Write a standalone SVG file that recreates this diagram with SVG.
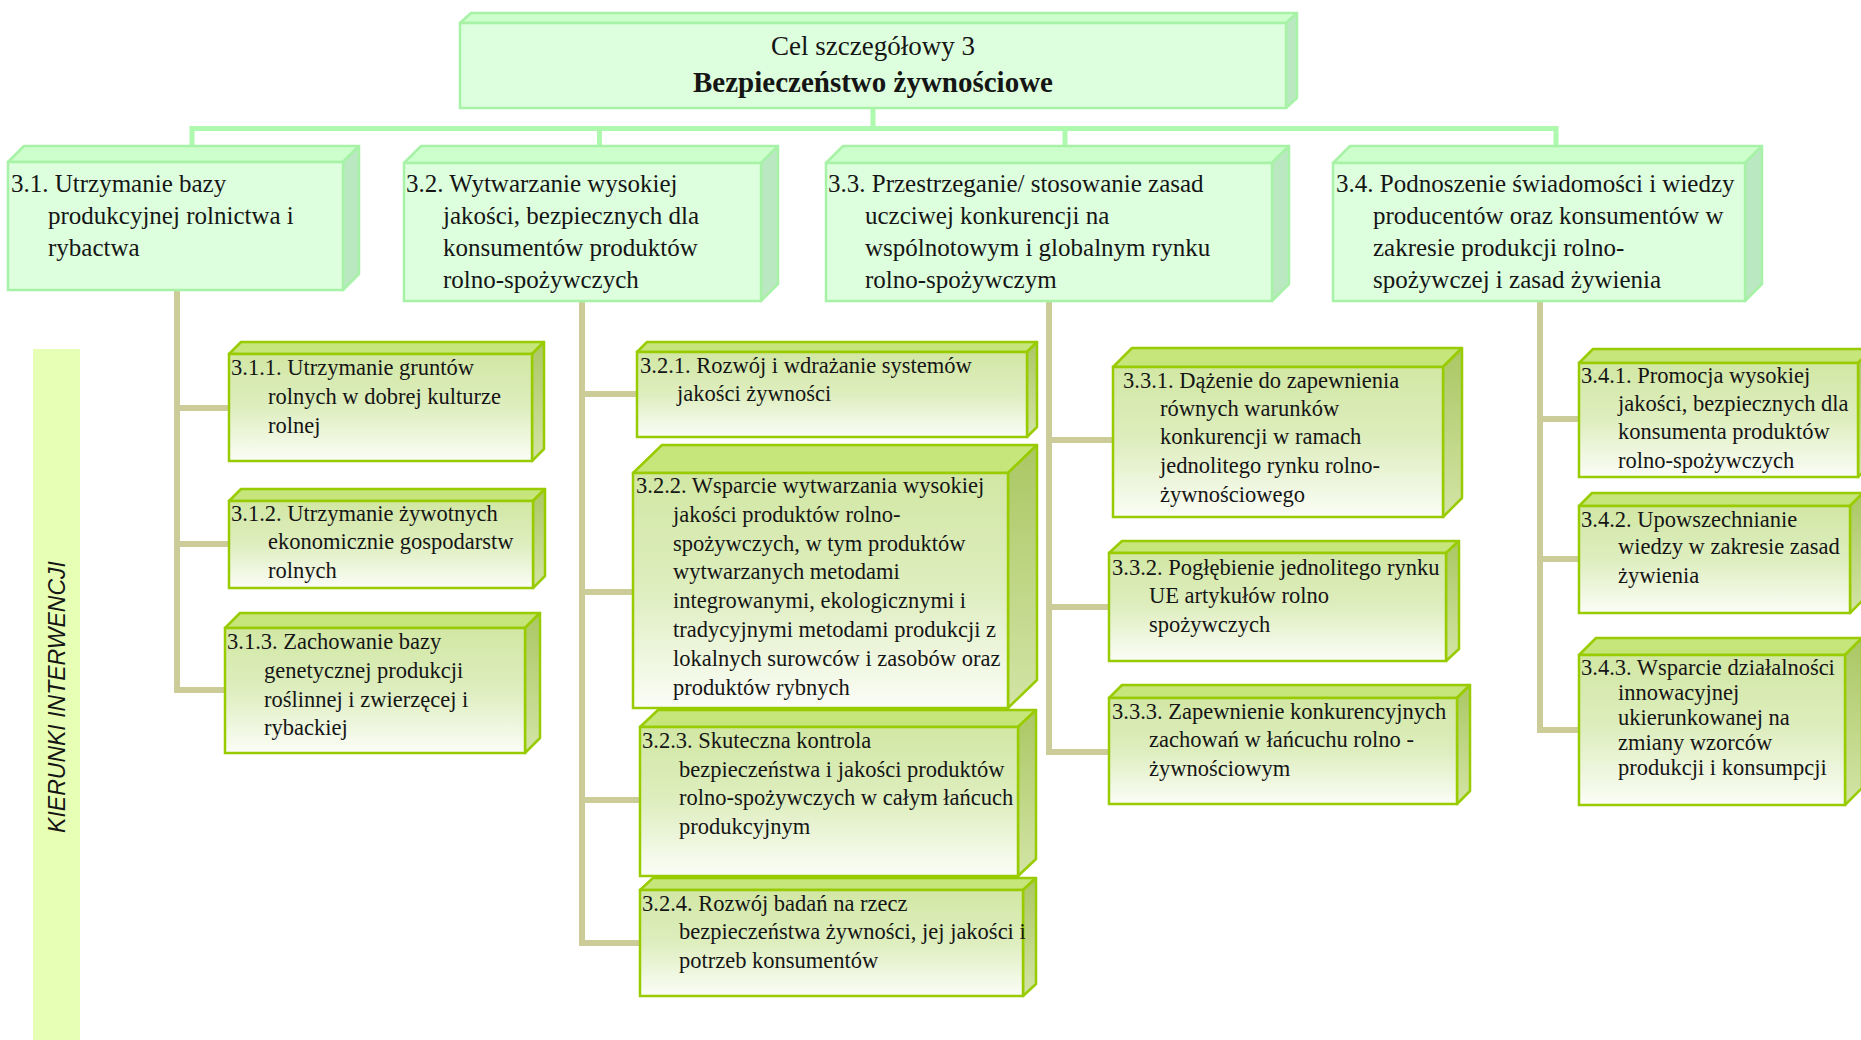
<svg xmlns="http://www.w3.org/2000/svg" width="1861" height="1040" viewBox="0 0 1861 1040">
<defs>
<linearGradient id="g2front" x1="0" y1="0" x2="0" y2="1">
<stop offset="0" stop-color="#d2e7a4"/>
<stop offset="0.5" stop-color="#deeebf"/>
<stop offset="1" stop-color="#fbfdf7"/>
</linearGradient>
<linearGradient id="g2side" x1="0" y1="0" x2="0" y2="1">
<stop offset="0" stop-color="#aac763"/>
<stop offset="1" stop-color="#d3e4a6"/>
</linearGradient>
<style>
.l1f{fill:#ddffdd;stroke:#a8f2a8;stroke-width:2.5}
.l1t{fill:#ccffcc;stroke:#a8f2a8;stroke-width:2.5;stroke-linejoin:round}
.l1s{fill:#b9e8c1;stroke:#a8f2a8;stroke-width:2.5;stroke-linejoin:round}
.l2f{fill:url(#g2front);stroke:#99cc00;stroke-width:2.5}
.l2t{fill:#c6e57b;stroke:#99cc00;stroke-width:2.5;stroke-linejoin:round}
.l2s{fill:url(#g2side);stroke:#99cc00;stroke-width:2.5;stroke-linejoin:round}
.c1{fill:none;stroke:#adf9ad;stroke-width:5}
.c2{fill:none;stroke:#cccc99;stroke-width:6}
text{font-family:"Liberation Serif","DejaVu Serif",serif;fill:#151515}
.t1{font-size:25px}
.t2{font-size:22.5px}
.tt{font-size:27px}
.tb{font-size:29px;font-weight:bold}
.side{font-family:"Liberation Sans",Arial,sans-serif;font-style:italic;font-size:23px}
</style>
</defs>
<rect width="1861" height="1040" fill="#ffffff"/>
<g id="band">
<rect x="33" y="349" width="47" height="691" fill="#e7ffb4"/>
<text class="side" transform="translate(65,697) rotate(-90)" text-anchor="middle">KIERUNKI INTERWENCJI</text>
</g>
<g id="connectors">
<path class="c1" d="M873,108 V128.5"/>
<path class="c1" d="M192,146 V128.5 H1556 V146"/>
<path class="c1" d="M599.5,128.5 V146 M1065,128.5 V146"/>
<path class="c2" d="M177,290 V693 M174,408 H229 M174,544 H229 M174,690 H225"/>
<path class="c2" d="M582,301 V946 M579,394 H637 M579,592 H633 M579,800 H640 M579,943 H640"/>
<path class="c2" d="M1049,301 V755 M1046,440 H1113 M1046,607 H1109 M1046,752 H1109"/>
<path class="c2" d="M1540,301 V733 M1537,419 H1579 M1537,559 H1579 M1537,730 H1579"/>
</g>
<g id="n3">
<polygon class="l1t" points="460,23 471,13 1297,13 1286,23"/>
<polygon class="l1s" points="1286,23 1297,13 1297,98 1286,108"/>
<rect class="l1f" x="460" y="23" width="826" height="85"/>
<text class="tt" x="873" y="55" text-anchor="middle">Cel szczegółowy 3</text>
<text class="tb" x="873" y="92" text-anchor="middle">Bezpieczeństwo żywnościowe</text>
</g>
<g id="n3-1">
<polygon class="l1t" points="8,162 24,146 359,146 343,162"/>
<polygon class="l1s" points="343,162 359,146 359,274 343,290"/>
<rect class="l1f" x="8" y="162" width="335" height="128"/>
<text class="t1"><tspan x="11" y="192">3.1. Utrzymanie bazy</tspan><tspan x="48" y="224">produkcyjnej rolnictwa i</tspan><tspan x="48" y="256">rybactwa</tspan></text>
</g>
<g id="n3-2">
<polygon class="l1t" points="404,163 421,146 778,146 761,163"/>
<polygon class="l1s" points="761,163 778,146 778,284 761,301"/>
<rect class="l1f" x="404" y="163" width="357" height="138"/>
<text class="t1"><tspan x="406" y="192">3.2. Wytwarzanie wysokiej</tspan><tspan x="443" y="224">jakości, bezpiecznych dla</tspan><tspan x="443" y="256">konsumentów produktów</tspan><tspan x="443" y="288">rolno-spożywczych</tspan></text>
</g>
<g id="n3-3">
<polygon class="l1t" points="826,163 843,146 1289,146 1272,163"/>
<polygon class="l1s" points="1272,163 1289,146 1289,284 1272,301"/>
<rect class="l1f" x="826" y="163" width="446" height="138"/>
<text class="t1"><tspan x="828" y="192">3.3. Przestrzeganie/ stosowanie zasad</tspan><tspan x="865" y="224">uczciwej konkurencji na</tspan><tspan x="865" y="256">wspólnotowym i globalnym rynku</tspan><tspan x="865" y="288">rolno-spożywczym</tspan></text>
</g>
<g id="n3-4">
<polygon class="l1t" points="1333,163 1350,146 1762,146 1745,163"/>
<polygon class="l1s" points="1745,163 1762,146 1762,284 1745,301"/>
<rect class="l1f" x="1333" y="163" width="412" height="138"/>
<text class="t1"><tspan x="1336" y="192">3.4. Podnoszenie świadomości i wiedzy</tspan><tspan x="1373" y="224">producentów oraz konsumentów w</tspan><tspan x="1373" y="256">zakresie produkcji rolno-</tspan><tspan x="1373" y="288">spożywczej i zasad żywienia</tspan></text>
</g>
<g id="n3-1-1">
<polygon class="l2t" points="229,354 241,342 544,342 532,354"/>
<polygon class="l2s" points="532,354 544,342 544,449 532,461"/>
<rect class="l2f" x="229" y="354" width="303" height="107"/>
<text class="t2"><tspan x="231" y="375">3.1.1. Utrzymanie gruntów</tspan><tspan x="268" y="404">rolnych w dobrej kulturze</tspan><tspan x="268" y="433">rolnej</tspan></text>
</g>
<g id="n3-1-2">
<polygon class="l2t" points="229,501 241,489 545,489 533,501"/>
<polygon class="l2s" points="533,501 545,489 545,576 533,588"/>
<rect class="l2f" x="229" y="501" width="304" height="87"/>
<text class="t2"><tspan x="231" y="521">3.1.2. Utrzymanie żywotnych</tspan><tspan x="268" y="549">ekonomicznie gospodarstw</tspan><tspan x="268" y="578">rolnych</tspan></text>
</g>
<g id="n3-1-3">
<polygon class="l2t" points="225,628 240,613 540,613 525,628"/>
<polygon class="l2s" points="525,628 540,613 540,738 525,753"/>
<rect class="l2f" x="225" y="628" width="300" height="125"/>
<text class="t2"><tspan x="227" y="649">3.1.3. Zachowanie bazy</tspan><tspan x="264" y="678">genetycznej produkcji</tspan><tspan x="264" y="707">roślinnej i zwierzęcej i</tspan><tspan x="264" y="735">rybackiej</tspan></text>
</g>
<g id="n3-2-1">
<polygon class="l2t" points="637,352 647,342 1037,342 1027,352"/>
<polygon class="l2s" points="1027,352 1037,342 1037,427 1027,437"/>
<rect class="l2f" x="637" y="352" width="390" height="85"/>
<text class="t2"><tspan x="640" y="373">3.2.1. Rozwój i wdrażanie systemów</tspan><tspan x="677" y="401">jakości żywności</tspan></text>
</g>
<g id="n3-2-2">
<polygon class="l2t" points="633,473 662,445 1037,445 1008,473"/>
<polygon class="l2s" points="1008,473 1037,445 1037,680 1008,708"/>
<rect class="l2f" x="633" y="473" width="375" height="235"/>
<text class="t2"><tspan x="636" y="493">3.2.2. Wsparcie wytwarzania wysokiej</tspan><tspan x="673" y="522">jakości produktów rolno-</tspan><tspan x="673" y="551">spożywczych, w tym produktów</tspan><tspan x="673" y="579">wytwarzanych metodami</tspan><tspan x="673" y="608">integrowanymi, ekologicznymi i</tspan><tspan x="673" y="637">tradycyjnymi metodami produkcji z</tspan><tspan x="673" y="666">lokalnych surowców i zasobów oraz</tspan><tspan x="673" y="695">produktów rybnych</tspan></text>
</g>
<g id="n3-2-3">
<polygon class="l2t" points="640,727 658,710 1036,710 1018,727"/>
<polygon class="l2s" points="1018,727 1036,710 1036,859 1018,876"/>
<rect class="l2f" x="640" y="727" width="378" height="149"/>
<text class="t2"><tspan x="642" y="748">3.2.3. Skuteczna kontrola</tspan><tspan x="679" y="777">bezpieczeństwa i jakości produktów</tspan><tspan x="679" y="805">rolno-spożywczych w całym łańcuch</tspan><tspan x="679" y="834">produkcyjnym</tspan></text>
</g>
<g id="n3-2-4">
<polygon class="l2t" points="640,890 653,878 1036,878 1023,890"/>
<polygon class="l2s" points="1023,890 1036,878 1036,984 1023,996"/>
<rect class="l2f" x="640" y="890" width="383" height="106"/>
<text class="t2"><tspan x="642" y="911">3.2.4. Rozwój badań na rzecz</tspan><tspan x="679" y="939">bezpieczeństwa żywności, jej jakości i</tspan><tspan x="679" y="968">potrzeb konsumentów</tspan></text>
</g>
<g id="n3-3-1">
<polygon class="l2t" points="1113,367 1132,348 1462,348 1443,367"/>
<polygon class="l2s" points="1443,367 1462,348 1462,498 1443,517"/>
<rect class="l2f" x="1113" y="367" width="330" height="150"/>
<text class="t2"><tspan x="1123" y="388">3.3.1. Dążenie do zapewnienia</tspan><tspan x="1160" y="416">równych warunków</tspan><tspan x="1160" y="444">konkurencji w ramach</tspan><tspan x="1160" y="473">jednolitego rynku rolno-</tspan><tspan x="1160" y="502">żywnościowego</tspan></text>
</g>
<g id="n3-3-2">
<polygon class="l2t" points="1109,553 1122,541 1459,541 1446,553"/>
<polygon class="l2s" points="1446,553 1459,541 1459,649 1446,661"/>
<rect class="l2f" x="1109" y="553" width="337" height="108"/>
<text class="t2"><tspan x="1112" y="575">3.3.2. Pogłębienie jednolitego rynku</tspan><tspan x="1149" y="603">UE artykułów rolno</tspan><tspan x="1149" y="632">spożywczych</tspan></text>
</g>
<g id="n3-3-3">
<polygon class="l2t" points="1109,698 1122,685 1470,685 1457,698"/>
<polygon class="l2s" points="1457,698 1470,685 1470,791 1457,804"/>
<rect class="l2f" x="1109" y="698" width="348" height="106"/>
<text class="t2"><tspan x="1112" y="719">3.3.3. Zapewnienie konkurencyjnych</tspan><tspan x="1149" y="747">zachowań w łańcuchu rolno -</tspan><tspan x="1149" y="776">żywnościowym</tspan></text>
</g>
<g id="n3-4-1">
<polygon class="l2t" points="1579,363 1593,349 1872,349 1858,363"/>
<polygon class="l2s" points="1858,363 1872,349 1872,463 1858,477"/>
<rect class="l2f" x="1579" y="363" width="279" height="114"/>
<text class="t2"><tspan x="1581" y="383">3.4.1. Promocja wysokiej</tspan><tspan x="1618" y="411">jakości, bezpiecznych dla</tspan><tspan x="1618" y="439">konsumenta produktów</tspan><tspan x="1618" y="468">rolno-spożywczych</tspan></text>
</g>
<g id="n3-4-2">
<polygon class="l2t" points="1579,506 1592,493 1863,493 1850,506"/>
<polygon class="l2s" points="1850,506 1863,493 1863,600 1850,613"/>
<rect class="l2f" x="1579" y="506" width="271" height="107"/>
<text class="t2"><tspan x="1581" y="527">3.4.2. Upowszechnianie</tspan><tspan x="1618" y="554">wiedzy w zakresie zasad</tspan><tspan x="1618" y="583">żywienia</tspan></text>
</g>
<g id="n3-4-3">
<polygon class="l2t" points="1579,655 1596,638 1862,638 1845,655"/>
<polygon class="l2s" points="1845,655 1862,638 1862,788 1845,805"/>
<rect class="l2f" x="1579" y="655" width="266" height="150"/>
<text class="t2"><tspan x="1581" y="675">3.4.3. Wsparcie działalności</tspan><tspan x="1618" y="700">innowacyjnej</tspan><tspan x="1618" y="725">ukierunkowanej na</tspan><tspan x="1618" y="750">zmiany wzorców</tspan><tspan x="1618" y="775">produkcji i konsumpcji</tspan></text>
</g>
</svg>
